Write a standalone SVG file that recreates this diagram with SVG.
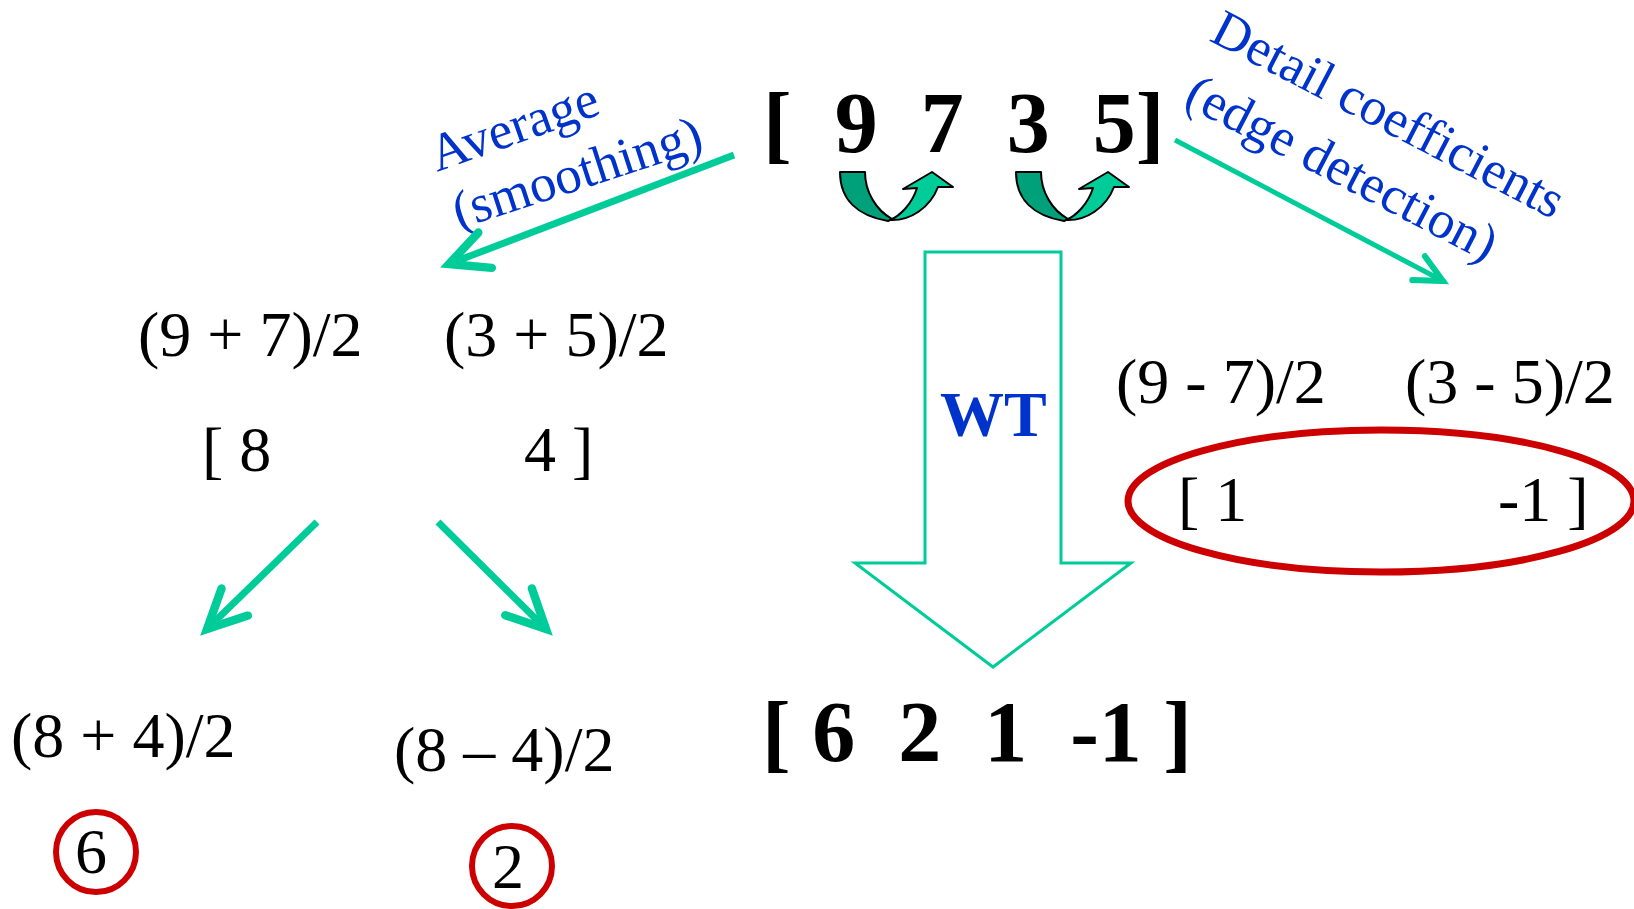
<svg xmlns="http://www.w3.org/2000/svg" width="1634" height="909" viewBox="0 0 1634 909">
<style>
.t{font-family:"Liberation Serif","Times New Roman",serif;font-size:64px;fill:#000}
.b{font-family:"Liberation Serif","Times New Roman",serif;font-weight:bold;font-size:86px;fill:#000}
.lbl{font-family:"Liberation Serif","Times New Roman",serif;fill:#0033CC}
.conn{stroke:#00CC99;fill:none;stroke-linecap:butt}
.ring{fill:none;stroke:#CC0000}
.dark{fill:#00A07A;stroke:#000;stroke-width:2;stroke-linejoin:round}
.light{fill:#00CC99;stroke:#000;stroke-width:2;stroke-linejoin:round}
</style>
<defs>
<marker id="head" markerUnits="strokeWidth" markerWidth="12" markerHeight="12" viewBox="-7 -5 9 10" refX="0" refY="0" orient="auto" overflow="visible">
<path d="M-4.6,-2.25 L0,0 L-4.6,2.25" fill="none" stroke="#00CC99" stroke-width="1" stroke-linecap="round" stroke-linejoin="miter"/>
</marker>
<g id="uarrow">
<path class="dark" d="M0,0 L25,0 C25,20 36,38 52,47 L48,49 C18,44 0,28 0,0 Z"/>
<path class="light" d="M50,48 C70,49 90,36 98,15 L113,15 L92,0 L63,17 L77,16 C72,32 60,44 50,48 Z"/>
</g>
</defs>
<rect width="1634" height="909" fill="#fff"/>

<g id="input">
<text class="b" x="763" y="152" xml:space="preserve">[  9  7  3  5]</text>
<use href="#uarrow" x="840" y="172"/>
<use href="#uarrow" x="1016" y="172"/>
</g>

<g id="label-average">
<text class="lbl" font-size="53" transform="translate(437,172) rotate(-19.5)">Average</text>
<text class="lbl" font-size="53" transform="translate(459,229) rotate(-18)">(smoothing)</text>
</g>

<g id="label-detail">
<text class="lbl" font-size="53" transform="translate(1208,40) rotate(27.5)">Detail coefficients</text>
<text class="lbl" font-size="53" transform="translate(1182,104) rotate(27.5)">(edge detection)</text>
</g>

<g id="averages">
<text class="t" x="138" y="356">(9 + 7)/2</text>
<text class="t" x="444" y="356">(3 + 5)/2</text>
<text class="t" x="202" y="471" xml:space="preserve">[ 8</text>
<text class="t" x="524" y="471" xml:space="preserve">4 ]</text>
</g>

<g id="level2-avg">
<text class="t" x="11" y="757" font-size="65">(8 + 4)/2</text>
<text class="t" x="75" y="873">6</text>
<ellipse class="ring" cx="96" cy="852" rx="40" ry="40" stroke-width="6"/>
</g>

<g id="level2-diff">
<text class="t" x="394" y="771">(8 – 4)/2</text>
<text class="t" x="492" y="888">2</text>
<ellipse class="ring" cx="512" cy="866" rx="40" ry="40" stroke-width="6"/>
</g>

<g id="details">
<text class="t" x="1116" y="403">(9 - 7)/2</text>
<text class="t" x="1405" y="403">(3 - 5)/2</text>
<text class="t" x="1178" y="521" xml:space="preserve">[ 1</text>
<text class="t" x="1498" y="521" xml:space="preserve">-1 ]</text>
<ellipse class="ring" cx="1381" cy="501" rx="253" ry="71" stroke-width="7"/>
</g>

<g id="wt">
<polygon points="925,252 1061,252 1061,563 1131,563 993,667 855,563 925,563" fill="none" stroke="#00CC99" stroke-width="3" stroke-linejoin="miter"/>
<text x="940" y="436" style="font-family:'Liberation Serif','Times New Roman',serif;font-weight:bold;font-size:64px;fill:#0033CC">WT</text>
</g>

<g id="output">
<text class="b" x="762" y="761" xml:space="preserve">[ 6  2  1  -1 ]</text>
</g>

<g id="connectors">
<line class="conn" x1="734" y1="155" x2="449" y2="264" stroke-width="7" marker-end="url(#head)"/>
<line class="conn" x1="1175" y1="140" x2="1443" y2="281" stroke-width="5" marker-end="url(#head)"/>
<line class="conn" x1="317" y1="522" x2="207" y2="629" stroke-width="7" marker-end="url(#head)"/>
<line class="conn" x1="438" y1="522" x2="546" y2="629" stroke-width="7" marker-end="url(#head)"/>
</g>
</svg>
